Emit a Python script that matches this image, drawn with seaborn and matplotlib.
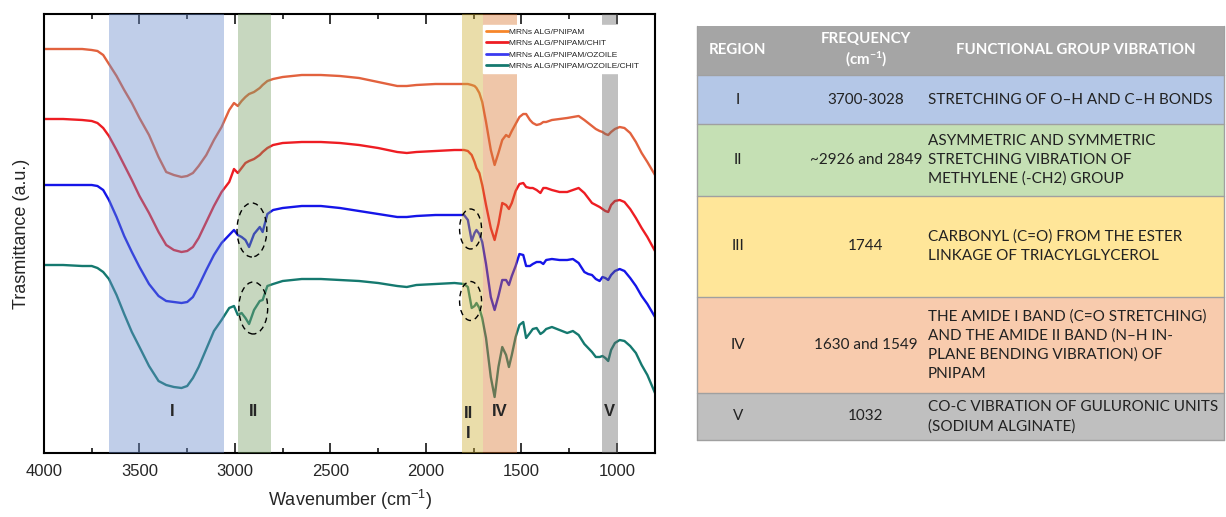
import numpy as np
import pandas as pd
import seaborn as sns
import matplotlib.pyplot as plt
from matplotlib.patches import Ellipse, Rectangle
from matplotlib.lines import Line2D
from matplotlib.ticker import MultipleLocator

# FTIR spectra (transmittance in arbitrary units, curves offset)
wavenumber = [4000, 3900, 3800, 3750, 3720, 3690, 3660, 3620, 3580, 3540,
              3500, 3450, 3400, 3360, 3320, 3280, 3250, 3220, 3190, 3150,
              3110, 3070, 3030, 3005, 2985, 2965, 2945, 2926, 2900, 2870,
              2855, 2830, 2800, 2750, 2650, 2550, 2450, 2350, 2250, 2150,
              2100, 2050, 1950, 1850, 1800, 1780, 1760, 1745, 1735, 1720,
              1705, 1685, 1660, 1640, 1620, 1600, 1580, 1565, 1550, 1530,
              1510, 1490, 1475, 1455, 1440, 1420, 1400, 1385, 1370, 1340,
              1300, 1260, 1230, 1200, 1170, 1150, 1130, 1110, 1090, 1075,
              1060, 1045, 1030, 1010, 985, 960, 930, 900, 870, 840,
              800]

alg_pnipam = [40.4, 40.4, 40.4, 40.3, 40.2, 39.8, 38.9, 37.7, 36.3, 35.0,
              33.5, 31.8, 29.6, 28.1, 27.8, 27.6, 27.7, 28.0, 28.7, 29.8,
              31.3, 32.6, 34.3, 35.0, 34.7, 35.2, 35.6, 35.9, 36.1, 36.5,
              36.8, 37.2, 37.4, 37.6, 37.8, 37.8, 37.7, 37.5, 37.1, 36.7,
              36.7, 36.8, 36.9, 36.9, 36.9, 36.9, 36.8, 36.7, 36.5, 36.0,
              35.1, 33.1, 30.3, 28.8, 30.0, 31.3, 31.8, 31.6, 32.2, 32.9,
              33.6, 33.9, 33.9, 33.3, 33.0, 32.8, 32.9, 33.1, 33.1, 33.3,
              33.4, 33.5, 33.6, 33.7, 33.3, 33.0, 32.7, 32.4, 32.2, 32.1,
              31.9, 31.8, 32.1, 32.4, 32.6, 32.5, 32.0, 31.1, 30.0, 29.1,
              27.8]

alg_pnipam_chit = [33.4, 33.4, 33.3, 33.2, 33.0, 32.5, 31.7, 30.3, 28.8, 27.3,
                   25.7, 24.0, 22.1, 20.8, 20.3, 20.1, 20.2, 20.6, 21.5, 23.1,
                   24.7, 26.1, 27.1, 28.4, 28.0, 28.5, 29.0, 29.2, 29.4, 29.8,
                   30.1, 30.5, 30.8, 31.0, 31.1, 31.1, 31.0, 30.8, 30.5, 30.1,
                   30.0, 30.1, 30.2, 30.3, 30.3, 30.2, 29.8, 29.1, 28.5, 28.0,
                   26.8, 24.8, 22.5, 21.3, 22.9, 25.0, 24.8, 24.4, 25.0, 26.2,
                   26.9, 27.0, 26.6, 26.5, 26.5, 26.3, 26.0, 26.5, 26.5, 26.3,
                   26.1, 26.1, 26.3, 26.5, 26.0, 25.5, 25.0, 24.8, 24.6, 24.4,
                   24.2, 24.1, 24.8, 25.2, 25.3, 25.1, 24.4, 23.5, 22.5, 21.6,
                   20.2]

alg_pnipam_ozoile = [26.8, 26.8, 26.8, 26.8, 26.7, 26.3, 25.3, 23.6, 21.7, 20.1,
                     18.6, 16.9, 15.7, 15.2, 15.1, 15.0, 15.1, 15.6, 16.7, 18.3,
                     19.8, 21.0, 21.8, 22.3, 21.8, 21.6, 21.3, 20.6, 21.9, 22.6,
                     22.1, 23.9, 24.3, 24.5, 24.7, 24.7, 24.5, 24.2, 23.9, 23.6,
                     23.6, 23.7, 23.8, 23.8, 23.8, 23.3, 21.2, 22.0, 22.3, 21.9,
                     21.1, 18.9, 15.6, 14.3, 15.7, 17.3, 17.3, 16.8, 17.7, 18.7,
                     19.9, 19.8, 18.7, 18.7, 18.9, 19.1, 19.1, 18.9, 19.3, 19.4,
                     19.3, 19.3, 19.4, 19.0, 18.1, 17.9, 17.8, 17.4, 17.2, 17.6,
                     17.5, 17.3, 17.8, 18.2, 18.4, 18.2, 17.5, 16.7, 15.7, 14.9,
                     13.6]

alg_pnipam_ozoile_chit = [18.8, 18.8, 18.7, 18.7, 18.5, 18.1, 17.4, 15.8, 13.9, 12.1,
                          10.6, 8.7, 7.2, 6.8, 6.6, 6.5, 6.7, 7.5, 8.6, 10.4,
                          12.2, 13.3, 14.5, 14.7, 13.8, 14.0, 13.5, 12.9, 14.3, 15.2,
                          15.3, 16.7, 16.9, 17.2, 17.4, 17.4, 17.3, 17.2, 17.0, 16.7,
                          16.6, 16.8, 16.9, 17.0, 16.9, 16.6, 14.5, 14.7, 15.0, 14.5,
                          13.5, 11.5, 7.6, 5.6, 8.6, 10.6, 9.8, 8.6, 9.8, 11.6,
                          12.8, 13.1, 11.5, 12.0, 12.4, 12.5, 11.9, 12.1, 12.4, 12.6,
                          12.3, 12.0, 12.2, 11.8, 10.9, 10.5, 10.1, 9.6, 9.6, 9.7,
                          9.5, 9.2, 10.3, 11.0, 11.3, 11.2, 10.7, 10.0, 8.8, 7.8,
                          6.0]

sample_names = ["MRNs ALG/PNIPAM", "MRNs ALG/PNIPAM/CHIT",
                "MRNs ALG/PNIPAM/OZOILE", "MRNs ALG/PNIPAM/OZOILE/CHIT"]
line_colors = ["#e2623e", "#ee1d23", "#1515e8", "#15796f"]
legend_colors = ["#f7862a", "#ee1d23", "#3a3af0", "#15796f"]

# highlighted absorption regions
band_labels = ["I", "II", "II\nI", "IV", "V"]
band_lo = [3660, 2982, 1810, 1700, 1075]
band_hi = [3055, 2812, 1700, 1522, 995]
band_label_x = [3330, 2904, 1776, 1611, 1037]
band_colors = ["#6a8ccb", "#7aa168", "#cfae36", "#da7734", "#6a6a6a"]

# dashed marks around the ozone-oil peaks: centre wn, centre T, width, height
circles = [(2911, 22.3, 156, 5.4), (2904, 14.5, 151, 5.2),
           (1766, 22.4, 115, 4.0), (1766, 15.2, 115, 3.9)]

# table on the right
table_header = ["REGION", "FREQUENCY\n(cm$^{-1}$)", "FUNCTIONAL GROUP VIBRATION"]
table_regions = ["I", "II", "III", "IV", "V"]
table_freq = ["3700-3028", "~2926 and 2849", "1744", "1630 and 1549", "1032"]
table_vib = ["STRETCHING OF O\u2013H AND C\u2013H BONDS",
             "ASYMMETRIC AND SYMMETRIC\nSTRETCHING VIBRATION OF\nMETHYLENE (-CH2) GROUP",
             "CARBONYL (C=O) FROM THE ESTER\nLINKAGE OF TRIACYLGLYCEROL",
             "THE AMIDE I BAND (C=O STRETCHING)\nAND THE AMIDE II BAND (N\u2013H IN-\nPLANE BENDING VIBRATION) OF\nPNIPAM",
             "CO-C VIBRATION OF GULURONIC UNITS\n(SODIUM ALGINATE)"]
table_colors = ["#b4c7e7", "#c5e0b4", "#ffe699", "#f8cbad", "#bfbfbf"]
row_edges = [26, 75, 124, 196, 297, 393, 440]

sns.set_theme(style="ticks")
plt.rcParams['font.family'] = ['Liberation Sans', 'DejaVu Sans']
plt.rcParams['mathtext.default'] = 'regular'

series = [alg_pnipam, alg_pnipam_chit, alg_pnipam_ozoile, alg_pnipam_ozoile_chit]
df = pd.concat([pd.DataFrame({'wn': wavenumber, 'T': s, 'sample': n})
                for s, n in zip(series, sample_names)], ignore_index=True)

fig = plt.figure(figsize=(12.26, 5.17), dpi=100)
ax = fig.add_axes([44/1226, 64/517, 611/1226, 439/517])

sns.lineplot(data=df, x='wn', y='T', hue='sample', hue_order=sample_names,
             palette=dict(zip(sample_names, line_colors)), estimator=None,
             sort=False, lw=1.7, legend=False, ax=ax, zorder=2)

for lo, hi, c, lab, lx in zip(band_lo, band_hi, band_colors, band_labels, band_label_x):
    ax.axvspan(hi, lo, color=c, alpha=0.42, lw=0, zorder=3)
    ax.text(lx, 4.1 if '\n' not in lab else 2.95, lab, ha='center', va='center',
            fontsize=12, fontweight='bold', linespacing=1.35, zorder=4)

for cx, cy, w, h in circles:
    ax.add_patch(Ellipse((cx, cy), w, h, fill=False, ls=(0, (4, 3)),
                         lw=1.0, ec='black', zorder=4))

ax.set_xlim(4000, 800)
ax.set_ylim(0, 43.9)
ax.xaxis.set_major_locator(MultipleLocator(500))
ax.xaxis.set_minor_locator(MultipleLocator(250))
ax.tick_params(axis='x', which='both', direction='in', top=True, labelsize=12,
               width=1.3, pad=8)
ax.tick_params(axis='x', which='major', length=7)
ax.tick_params(axis='x', which='minor', length=3.5)
ax.set_yticks([])
for sp in ax.spines.values():
    sp.set_linewidth(1.5)
    sp.set_color('black')
ax.set_xlabel("Wavenumber (cm$^{-1}$)", fontsize=13, labelpad=6)
ax.set_ylabel("Trasmittance (a.u.)", fontsize=13, labelpad=10)

handles = [Line2D([], [], color=c, lw=2) for c in legend_colors]
leg = ax.legend(handles, sample_names, loc='upper left', bbox_to_anchor=(0.712, 0.985),
                frameon=True, fancybox=False, framealpha=1,
                handlelength=2.6, handletextpad=0.2, labelspacing=0.45,
                borderpad=0.35, prop={'family': ['Liberation Sans Narrow', 'Liberation Sans'], 'size': 6})
leg.get_frame().set_edgecolor('white')
leg.set_zorder(6)

# table drawn in figure pixel coordinates
tax = fig.add_axes([0, 0, 1, 1])
tax.set_xlim(0, 1226)
tax.set_ylim(517, 0)
tax.axis('off')
tfont = ['Lato', 'DejaVu Sans']
x0, x1 = 697, 1224
tax.add_patch(Rectangle((x0, row_edges[0]), x1 - x0, row_edges[1] - row_edges[0],
                        fc='#a5a5a5', ec='none'))
hy = (row_edges[0] + row_edges[1]) / 2
tax.text(738, hy, table_header[0], ha='center', va='center', color='white',
         fontweight='bold', fontsize=10.8, family=tfont)
tax.text(866, hy, table_header[1], ha='center', va='center', color='white',
         fontweight='bold', fontsize=10.8, family=tfont, linespacing=1.3)
tax.text(1076, hy, table_header[2], ha='center', va='center', color='white',
         fontweight='bold', fontsize=10.8, family=tfont)
for i, (reg, fr, vib, c) in enumerate(zip(table_regions, table_freq, table_vib, table_colors)):
    top, bot = row_edges[i + 1], row_edges[i + 2]
    tax.add_patch(Rectangle((x0, top), x1 - x0, bot - top, fc=c, ec='none'))
    cy = (top + bot) / 2
    tax.text(738, cy, reg, ha='center', va='center', fontsize=11, color='#222222', family=tfont)
    tax.text(866, cy, fr, ha='center', va='center', fontsize=11, color='#222222', family=tfont)
    tax.text(928, cy, vib, ha='left', va='center', fontsize=11, color='#222222',
             family=tfont, linespacing=1.45)
for y in row_edges[1:]:
    tax.plot([x0, x1], [y, y], color='#a0a0a0', lw=1)
tax.plot([x0, x0], [row_edges[0], row_edges[-1]], color='#a0a0a0', lw=1)
tax.plot([x1, x1], [row_edges[0], row_edges[-1]], color='#a0a0a0', lw=1)

fig.savefig("out.png", dpi=100)
